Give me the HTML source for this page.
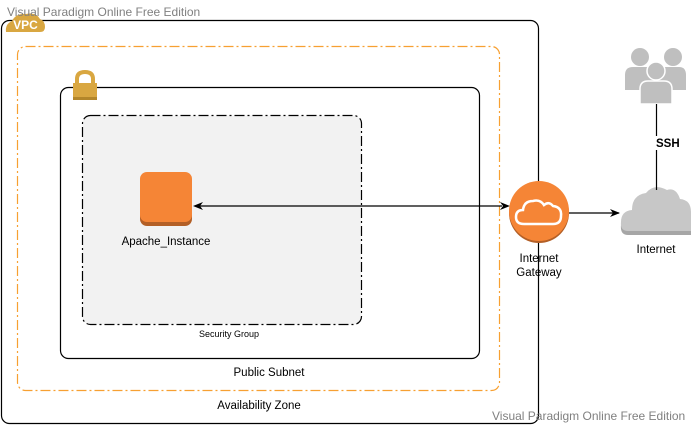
<!DOCTYPE html>
<html><head><style>
body{margin:0;background:#fff;width:691px;height:426px;overflow:hidden;position:relative;font-family:"Liberation Sans",sans-serif}
</style></head><body>
<svg width="691" height="426" xmlns="http://www.w3.org/2000/svg" style="position:absolute;left:0;top:0" font-family="Liberation Sans, sans-serif">
<defs>
<marker id="ah" markerWidth="10" markerHeight="10" refX="9" refY="5" orient="auto" markerUnits="userSpaceOnUse"><path d="M0,1 L10,5 L0,9 L3,5 Z" fill="#000"/></marker>
</defs>
<rect x="1.5" y="20.5" width="537" height="403" rx="8" fill="none" stroke="#000" stroke-width="1.2"/>
<rect x="17.5" y="46.5" width="482" height="344" rx="8" fill="none" stroke="#f7a032" stroke-width="1.2" stroke-dasharray="10,3,2,3"/>
<rect x="60.5" y="87.5" width="419" height="271" rx="8" fill="none" stroke="#000" stroke-width="1.2"/>
<rect x="82.5" y="115.5" width="279" height="209" rx="8" fill="#f2f2f2" stroke="#000" stroke-width="1.2" stroke-dasharray="10,3,2,3"/>
<!-- VPC badge -->
<path d="M6,32 Q5,24 12,21 Q16,13 26,14 Q36,12 40,19 Q45,21 45,27 Q45,32 40,32 Z" fill="#d9a741"/>
<text x="25.5" y="29" font-size="12" fill="#fff" text-anchor="middle" font-weight="bold">VPC</text>
<!-- lock -->
<path d="M77,84 V79 Q77,72 85,72 Q93,72 93,79 V84" fill="none" stroke="#d9a741" stroke-width="4"/>
<rect x="73" y="83" width="24" height="16" fill="#d9a741"/>
<rect x="73" y="97" width="24" height="3" fill="#b3862a"/>
<!-- apache -->
<rect x="140" y="174" width="52" height="52" rx="7" fill="#b35f26"/>
<rect x="140" y="172" width="52" height="50" rx="7" fill="#f58536"/>
<text x="166" y="245" font-size="11.5" text-anchor="middle">Apache_Instance</text>
<text x="229" y="337" font-size="9" text-anchor="middle">Security Group</text>
<text x="269" y="376" font-size="11.5" text-anchor="middle">Public Subnet</text>
<text x="259" y="409" font-size="11.5" text-anchor="middle">Availability Zone</text>
<!-- arrow double -->
<line x1="200" y1="206" x2="502" y2="206" stroke="#000" stroke-width="1.2"/>
<path d="M193,206 L203,202 L200,206 L203,210 Z" fill="#000"/>
<path d="M510,206 L500,202 L503,206 L500,210 Z" fill="#000"/>
<!-- gateway -->
<circle cx="539" cy="213" r="30" fill="#b35f26"/>
<circle cx="539" cy="211" r="30" fill="#f58536"/>
<path d="M524,224 Q516,224 516,217 Q516,210 523,210 Q524,201 533,201 Q540,199 544,205 Q549,201 553,206 Q562,207 561,216 Q561,224 553,224 Z" fill="none" stroke="#fff" stroke-width="2.5"/>
<text x="539" y="262" font-size="11.5" text-anchor="middle">Internet</text>
<text x="539" y="276" font-size="11.5" text-anchor="middle">Gateway</text>
<line x1="569" y1="213" x2="619" y2="213" stroke="#000" stroke-width="1.2" marker-end="url(#ah)"/>
<!-- internet cloud -->
<path d="M628,235 Q620,235 621,225 Q621,214 632,213 Q632,198 646,196 Q654,186 667,193 Q676,190 680,202 Q691,203 691,215 L691,235 Z" fill="#a6a6a6"/>
<path d="M628,231 Q620,231 621,222 Q621,211 632,210 Q632,195 646,193 Q654,183 667,190 Q676,187 680,199 Q691,200 691,212 L691,231 Z" fill="#c7c7c7"/>
<text x="656" y="253" font-size="11.5" text-anchor="middle">Internet</text>
<!-- users -->
<g fill="#bfbfbf">
<circle cx="640" cy="57" r="9"/><circle cx="673" cy="57" r="9"/>
<path d="M625,90 V75 Q625,67 633,67 H648 Q655,67 656,75 V90 Z"/>
<path d="M657,90 V75 Q657,67 665,67 H679 Q686,67 686,75 V90 Z"/>
<circle cx="656" cy="71" r="9" stroke="#fff" stroke-width="1.5"/>
<path d="M640,104 V89 Q640,81 648,81 H664 Q672,81 672,89 V104 Z" stroke="#fff" stroke-width="1.5"/>
</g>
<line x1="656.5" y1="104" x2="656.5" y2="190" stroke="#000" stroke-width="1.2"/>
<rect x="655" y="136" width="30" height="14" fill="#fff"/>
<text x="656" y="147" font-size="11.5" font-weight="bold">SSH</text>
<text x="7" y="16" font-size="12" fill="#808080">Visual Paradigm Online Free Edition</text>
<text x="492" y="420" font-size="12" fill="#808080">Visual Paradigm Online Free Edition</text>
</svg>
</body></html>
